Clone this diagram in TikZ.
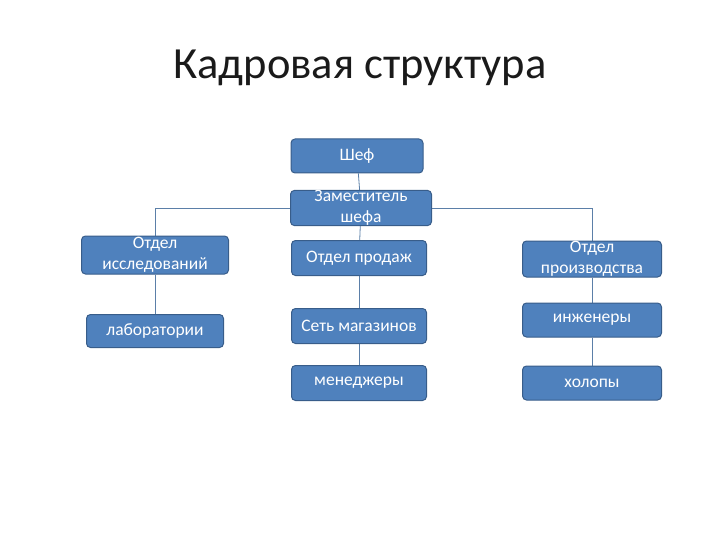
\documentclass[tikz,border=0pt]{standalone}
\usepackage{fontspec}
\setmainfont{Carlito}
\usetikzlibrary{positioning,backgrounds}
\definecolor{boxfill}{HTML}{4F81BD}
\definecolor{boxline}{HTML}{385D8A}
\definecolor{linkcol}{HTML}{5B7FA8}
\definecolor{titlecol}{HTML}{1A1A1A}
\begin{document}
\begin{tikzpicture}[x=1pt, y=-1pt,
  box/.style={rectangle, rounded corners=4pt, draw=boxline, line width=1pt, fill=boxfill, text=white, minimum width=#1, minimum height=35pt, inner sep=0pt, font=\fontsize{17.5}{21}\selectfont, align=center},
  box/.default=135pt,
  link/.style={linkcol, line width=0.8pt}
]
  \useasboundingbox (0,0) rectangle (720,540);
  % title
  \node[font=\fontsize{44.5}{50}\selectfont, text=titlecol] (title) at (360,68) {Кадровая структура};
  % top
  \node[box=132pt, minimum height=34pt] (shef) at (357,156) {Шеф};
  \node[box=141pt] (zam) at (361,208) {Заместитель\\шефа};
  % left branch
  \node[box=147pt, minimum height=38pt] (issl) at (155,255) {Отдел\\исследований};
  \node[box=137pt, minimum height=33pt] (lab) at (155,331) {лаборатории};
  % middle branch
  \node[box] (prod) at (359,258) {Отдел продаж};
  \node[box] (set) at (359,326) {Сеть магазинов};
  \node[box] (men) at (359,383) {менеджеры};
  % right branch
  \node[box=139pt, minimum height=36pt] (proizv) at (592,259) {Отдел\\производства};
  \node[box=139pt, minimum height=34pt] (inzh) at (592,320) {инженеры};
  \node[box=139pt, minimum height=34pt] (holop) at (592,383) {холопы};
  % connectors
  \begin{scope}[on background layer]
    \draw[link] (shef) -- (zam);
    \draw[link] (zam) -- (prod);
    \draw[link] (zam) -| (issl);
    \draw[link] (zam) -| (proizv);
    \draw[link] (issl) -- (lab);
    \draw[link] (prod) -- (set);
    \draw[link] (set) -- (men);
    \draw[link] (proizv) -- (inzh);
    \draw[link] (inzh) -- (holop);
  \end{scope}
\end{tikzpicture}
\end{document}
